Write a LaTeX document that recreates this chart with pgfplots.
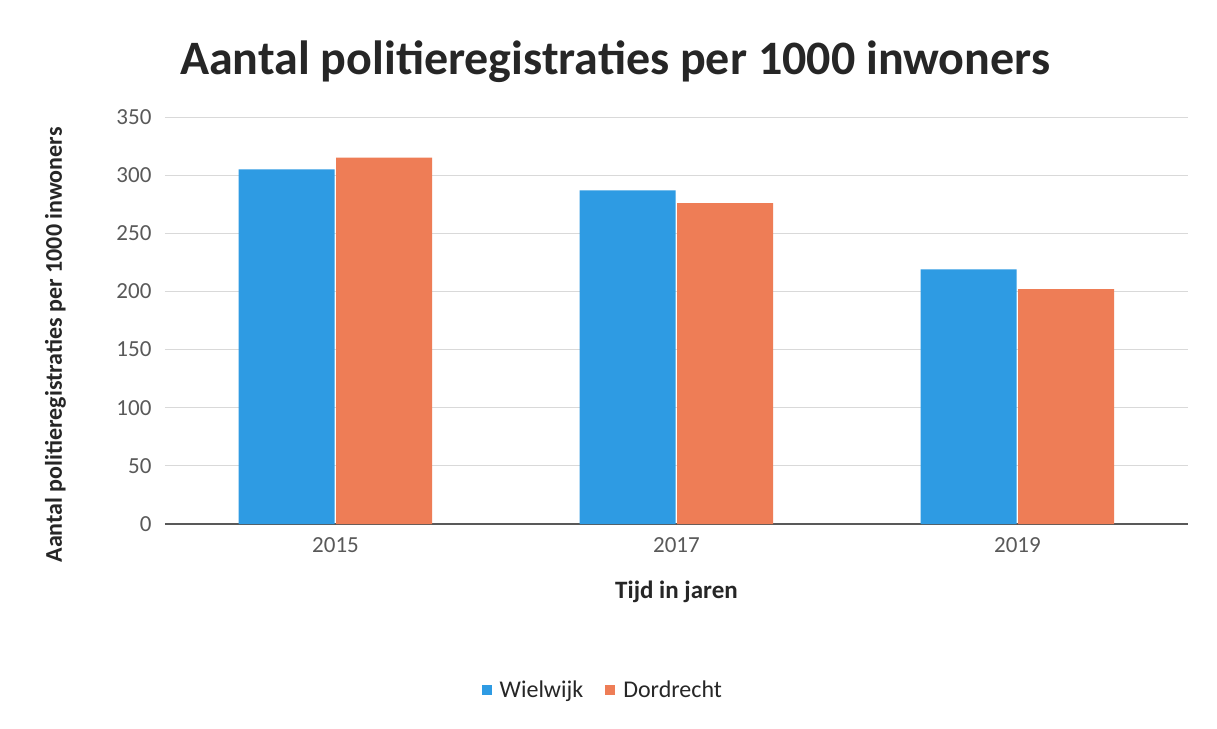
\documentclass[border=0pt]{standalone}
\usepackage{pgfplots}
\pgfplotsset{compat=1.18}
\usepackage{fontspec}
\setmainfont{Carlito}
\definecolor{wblue}{RGB}{46,155,227}
\definecolor{dorange}{RGB}{238,125,86}
\definecolor{gridc}{RGB}{217,217,217}
\definecolor{tickc}{RGB}{89,89,89}
\definecolor{labc}{RGB}{38,38,38}
\begin{document}
\begin{tikzpicture}
\path[use as bounding box, fill=white] (-165pt,-204pt) rectangle (1052pt,524pt);
\begin{axis}[
  at={(0pt,0pt)}, anchor=south west,
  scale only axis, width=1023pt, height=407pt,
  ybar=1.5pt, bar width=96pt,
  xmin=-0.5, xmax=2.5, ymin=0, ymax=350,
  xtick=data, xticklabels={2015,2017,2019},
  ytick={0,50,...,350},
  /pgf/number format/assume math mode=true,
  tick style={draw=none},
  axis x line*=bottom, axis y line*=left,
  x axis line style={draw=tickc, line width=1.5pt, -},
  y axis line style={draw=none},
  ymajorgrids, grid style={draw=gridc, line width=0.9pt},
  ticklabel style={font=\fontsize{23}{27}\selectfont, text=tickc},
  yticklabel style={xshift=-10pt},
  xticklabel style={yshift=-6pt},
  title={Aantal politieregistraties per 1000 inwoners},
  title style={at={(axis description cs:0.44,1.12)}, anchor=center, font=\fontsize{48}{54}\selectfont\bfseries, text=labc},
  xlabel={Tijd in jaren},
  xlabel style={at={(axis description cs:0.5,-0.167)}, anchor=center, font=\fontsize{25}{29}\selectfont\bfseries, text=labc},
  ylabel={Aantal politieregistraties per 1000 inwoners},
  ylabel style={at={(axis description cs:-0.107,0.44)}, anchor=center, font=\fontsize{24}{28}\selectfont\bfseries, text=labc},
  legend style={at={(axis description cs:0.428,-0.408)}, anchor=center, draw=none, fill=none,
    font=\fontsize{24}{28}\selectfont, text=labc, legend columns=2,
    /tikz/every odd column/.append style={column sep=6pt},
    /tikz/every even column/.append style={column sep=20pt}},
  legend image code/.code={\fill[#1] (0pt,-5pt) rectangle (10pt,5pt);},
]
\addplot[fill=wblue, draw=none] coordinates {(0,305) (1,287) (2,219)};
\addplot[fill=dorange, draw=none] coordinates {(0,315) (1,276) (2,202)};
\legend{Wielwijk, Dordrecht}
\end{axis}
\end{tikzpicture}
\end{document}
